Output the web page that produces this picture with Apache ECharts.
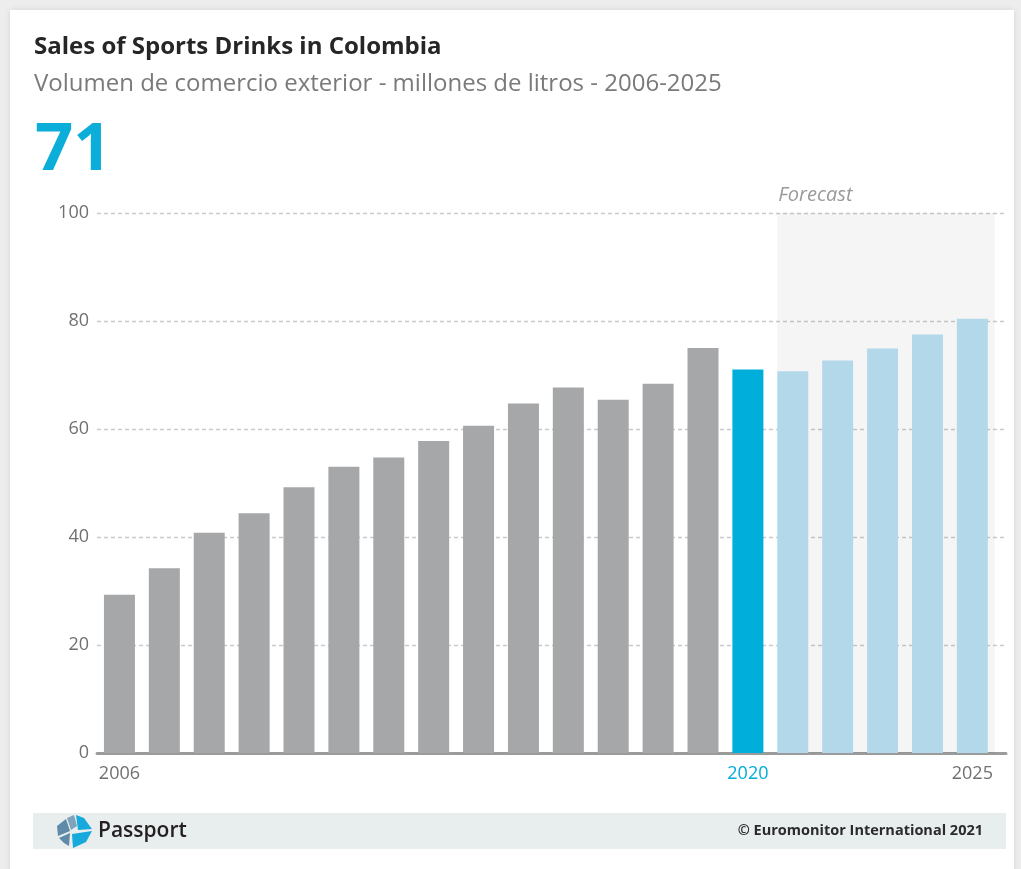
<!DOCTYPE html>
<html>
<head>
<meta charset="utf-8">
<script src="https://cdn.jsdelivr.net/npm/echarts@6/dist/echarts.min.js"></script>
<style>
  html, body { margin: 0; padding: 0; background: #ededed; width: 1021px; height: 869px; overflow: hidden; }
  #card { position: absolute; left: 10px; top: 10px; width: 1004px; height: 870px; background: #ffffff; box-shadow: 0 0 6px rgba(0,0,0,0.10); }
  #chart { position: absolute; left: 0; top: 0; width: 1021px; height: 869px; }
</style>
</head>
<body>
<div id="card"></div>
<div id="chart"></div>
<script>
// ---- data ----
const years = [2006, 2007, 2008, 2009, 2010, 2011, 2012, 2013, 2014, 2015, 2016, 2017, 2018, 2019, 2020, 2021, 2022, 2023, 2024, 2025];
const values = [29.3, 34.2, 40.8, 44.4, 49.2, 53.0, 54.7, 57.8, 60.6, 64.7, 67.7, 65.4, 68.4, 75.0, 71.0, 70.7, 72.7, 74.9, 77.5, 80.4];
const currentYear = 2020;
const labeledYears = [2006, 2020, 2025];
const yTicks = [0, 20, 40, 60, 80, 100];
const headline = '71';
const titleText = 'Sales of Sports Drinks in Colombia';
const subtitleText = 'Volumen de comercio exterior - millones de litros - 2006-2025';
const forecastLabel = 'Forecast';
const footerBrand = 'Passport';
const footerCopy = '© Euromonitor International 2021';

const GRAY = '#a6a7a9', BLUE = '#00aedb', LIGHT = '#b3d8ea';
const FONT = '"Open Sans", "Noto Sans", sans-serif';

const chart = echarts.init(document.getElementById('chart'), null, { renderer: 'canvas' });

const barData = years.map((y, i) => ({
  value: [y, values[i]],
  itemStyle: { color: y < currentYear ? GRAY : (y === currentYear ? BLUE : LIGHT) }
}));

const option = {
  animation: false,
  backgroundColor: 'transparent',
  title: [
    { text: titleText, left: 29, top: 30, textStyle: { fontFamily: FONT, fontSize: 24, fontWeight: 'bold', color: '#262626' } },
    { text: subtitleText, left: 29, top: 67, textStyle: { fontFamily: FONT, fontSize: 24, fontWeight: 'normal', color: '#7a7a7a' } },
    { text: headline, left: 30, top: 112, textStyle: { fontFamily: FONT, fontSize: 67, fontWeight: 'bold', color: '#0aaed8' } }
  ],
  grid: { left: 97, right: 15, top: 213, bottom: 116, containLabel: false },
  xAxis: {
    type: 'value',
    min: 2005.5,
    max: 2025.75,
    interval: 0.5,
    axisLine: { show: true, lineStyle: { color: '#9b9b9b', width: 3 } },
    axisTick: { show: false },
    splitLine: { show: false },
    axisLabel: {
      margin: 12,
      showMinLabel: true,
      showMaxLabel: false,
      fontFamily: FONT,
      fontSize: 18,
      color: '#707070',
      formatter: function (v) {
        if (labeledYears.indexOf(v) < 0) return '';
        return v === currentYear ? '{hl|' + v + '}' : String(v);
      },
      rich: { hl: { color: BLUE, fontFamily: FONT, fontSize: 18 } }
    }
  },
  yAxis: {
    type: 'value',
    min: yTicks[0],
    max: yTicks[yTicks.length - 1],
    interval: yTicks[1] - yTicks[0],
    axisLine: { show: false },
    axisTick: { show: false },
    axisLabel: { margin: 8, fontFamily: FONT, fontSize: 18, color: '#707070' },
    splitLine: { show: true, lineStyle: { color: '#c9c9c9', type: [4, 3], width: 1.3 } }
  },
  series: [{
    type: 'bar',
    data: barData,
    barWidth: 31,
    itemStyle: { borderWidth: 0 },
    markArea: {
      silent: true,
      itemStyle: { color: 'rgba(0,0,0,0.04)' },
      label: {
        show: true,
        position: [1, -28],
        fontFamily: FONT,
        fontSize: 20,
        fontStyle: 'italic',
        color: '#9a9a9a'
      },
      data: [[
        { name: forecastLabel, xAxis: 2020.655, yAxis: 100 },
        { xAxis: 2025.5, yAxis: 0 }
      ]]
    }
  }],
  graphic: [
    { type: 'rect', shape: { x: 33, y: 813, width: 973, height: 36 }, style: { fill: '#e8eded' }, z: 0 },
    // Passport logo (approximation)
    { type: 'polygon', shape: { points: [[57, 826], [66, 819], [70, 831], [58, 836]] }, style: { fill: '#5f8aa8' } },
    { type: 'polygon', shape: { points: [[67, 818], [74, 815], [77, 826], [71, 830]] }, style: { fill: '#7fa3bc' } },
    { type: 'polygon', shape: { points: [[59, 838], [70, 833], [69, 846], [64, 843]] }, style: { fill: '#5f8aa8' } },
    { type: 'polygon', shape: { points: [[76, 815], [84, 818], [89, 825], [92, 829], [78, 830]] }, style: { fill: '#16a9dc' } },
    { type: 'polygon', shape: { points: [[72, 834], [92, 831], [86, 842], [73, 848]] }, style: { fill: '#16a9dc' } },
    { type: 'text', style: { text: footerBrand, x: 98, y: 831, verticalAlign: 'middle', font: '600 21px ' + FONT, fill: '#231f20' } },
    { type: 'text', style: { text: footerCopy, x: 983, y: 831, align: 'right', verticalAlign: 'middle', font: 'bold 14.5px ' + FONT, fill: '#2b2b2b' } }
  ]
};

chart.setOption(option);
</script>
</body>
</html>
